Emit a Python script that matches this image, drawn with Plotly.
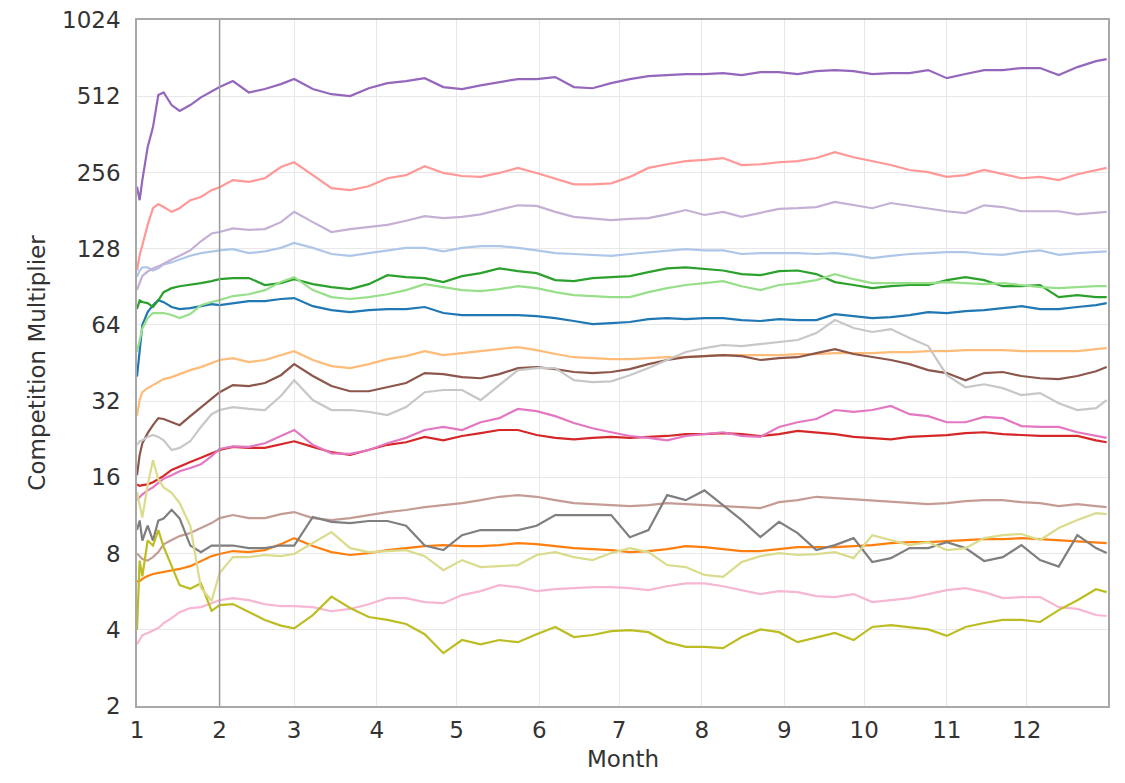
import plotly.graph_objects as go

# Day of year (0 = 1 January) at which each value was read
days = [0, 1, 2, 4, 6, 8, 10, 13, 16, 20, 24, 28, 31,
        36, 42, 48, 54, 59,
        66, 73, 80, 87, 94, 101, 108,
        115, 122, 129, 136, 143, 150, 157,
        164, 171, 178, 185, 192, 199, 206,
        213, 220, 227, 234, 241, 248, 255,
        262, 269, 276, 283, 290, 297, 304,
        311, 318, 325, 332, 339, 346, 353,
        360, 364]

month_starts = [0, 31, 59, 90, 120, 151, 181, 212, 243, 273, 304, 334]
month_labels = ["1", "2", "3", "4", "5", "6", "7", "8", "9", "10", "11", "12"]
y_ticks = [2, 4, 8, 16, 32, 64, 128, 256, 512, 1024]

s_purple = [225, 199, 239, 322, 387, 518, 530, 473, 448, 473, 507, 536, 557,
            588, 530, 547, 572, 599,
            547, 522, 513, 551, 577, 588, 604,
            557, 547, 566, 583, 599, 599, 610,
            557, 551, 577, 599, 615, 621, 627,
            627, 632, 621, 638, 638, 627, 644,
            650, 644, 627, 632, 632, 650, 604,
            627, 650, 650, 662, 662, 621, 668,
            705, 718]
s_light_red = [105, 121, 132, 159, 185, 192, 187, 179, 185, 199, 205, 218, 224,
               239, 235, 243, 269, 281,
               250, 222, 218, 226, 243, 250, 271,
               255, 248, 246, 255, 267, 255, 243,
               230, 230, 232, 246, 267, 276, 284,
               287, 292, 274, 276, 281, 284, 292,
               308, 294, 284, 274, 262, 257, 246,
               250, 262, 252, 243, 246, 239, 252,
               262, 267]
s_light_purple = [88, 94.5, 100, 104, 107, 109, 112, 116, 120, 126, 137, 147, 149,
                  154, 152, 153, 163, 179,
                  163, 149, 153, 156, 159, 165, 172,
                  169, 171, 175, 182, 190, 189, 179,
                  171, 168, 166, 168, 169, 175, 182,
                  174, 179, 171, 177, 184, 185, 187,
                  196, 190, 185, 194, 189, 184, 180,
                  177, 190, 187, 180, 180, 180, 175,
                  177, 179]
s_light_blue = [99, 105, 108, 108, 105, 107, 111, 113, 116, 120, 123, 125, 126,
                127.5, 123, 125, 129, 135,
                129, 122, 120, 123, 126, 129, 129,
                125, 129, 131, 131, 129, 126, 123,
                122, 121, 120, 122, 124, 126, 127.5,
                126, 126, 122, 123, 123, 123, 122,
                123, 121, 117.5, 120, 122, 123, 124,
                124, 122, 121, 124, 126, 121, 123,
                124, 125]
s_green = [74, 80, 78.8, 78, 75.3, 80, 86.2, 89.4, 91, 92, 93.6, 95.3, 97,
           98, 98, 92, 93.6, 97,
           92.7, 90.3, 88.6, 92.7, 100.6, 98.8, 98,
           94.5, 99.7, 102.5, 107, 104.4, 102.5, 96.2,
           95.3, 98, 98.8, 99.7, 103.5, 107, 108,
           106.3, 105, 101.6, 100.6, 104.4, 105, 101.6,
           94.5, 92, 89.4, 91, 92, 92, 96.2,
           98.8, 96.2, 91, 91, 92, 82.4, 83.9,
           82.4, 82.4]
s_light_green = [50, 55.8, 62, 68.1, 71.3, 71.3, 71.3, 70, 68.1, 70.6, 76.6, 78.8, 80.2,
                 83.2, 84.6, 87.8, 94.5, 98.8,
                 87.8, 82.4, 81, 82.4, 84.6, 87.8, 92.7,
                 90.3, 87.8, 87, 88.6, 91, 89.4, 86.2,
                 83.9, 83.2, 82.4, 82.4, 86.2, 89.4, 92,
                 93.6, 95.3, 91, 87.8, 92, 93.6, 96.2,
                 101.6, 97, 93.6, 93.6, 93.6, 93.6, 94.5,
                 93.6, 92.7, 93.6, 92, 90.3, 89.4, 90.3,
                 91, 91]
s_blue = [40, 50.9, 63.9, 71.9, 76.6, 80.2, 78.7, 75.3, 73.9, 74.5, 75.9, 77.3, 76.6,
          78, 79.4, 79.4, 81, 81.7,
          75.9, 73.2, 71.9, 73.2, 73.9, 73.9, 75.3,
          71.3, 70, 70, 70, 70, 69.3, 68.1,
          66.3, 64.5, 65.1, 65.7, 67.5, 68.1, 67.5,
          68.1, 68.1, 66.9, 66.3, 67.5, 66.9, 66.9,
          70.6, 69.3, 68.1, 68.7, 70, 71.9, 71.3,
          72.6, 73.2, 74.5, 75.9, 73.9, 73.9, 75.3,
          76.6, 78]
s_light_orange = [28, 32.3, 34.7, 36, 37, 38, 39.1, 39.8, 40.9, 42.4, 43.6, 45.2, 46.5,
                  47.3, 45.6, 46.5, 48.6, 50.4,
                  46.5, 44, 43.2, 44.8, 46.9, 48.2, 50.4,
                  48.6, 49.5, 50.4, 51.3, 52.3, 50.9, 49.1,
                  47.7, 47.3, 46.9, 46.9, 47.3, 47.7, 47.7,
                  48.2, 48.6, 48.6, 48.6, 48.6, 49.1, 49.1,
                  49.5, 49.5, 49.5, 50, 50, 50.4, 50.4,
                  50.9, 50.9, 50.9, 50.4, 50.4, 50.4, 50.4,
                  51.3, 51.8]
s_brown = [16.3, 19.6, 21.8, 23.9, 25.7, 27.4, 27.2, 26.4, 25.7, 27.9, 30.3, 32.9, 34.7,
           37, 36.7, 37.7, 40.5, 44.8,
           40.2, 36.7, 35, 35, 36.3, 37.7, 41.3,
           40.9, 39.8, 39.4, 40.9, 43.2, 43.6, 42.8,
           41.7, 41.3, 41.7, 42.8, 44.8, 46.5, 47.7,
           48.2, 48.6, 48.2, 46.5, 47.3, 47.7, 49.5,
           51.3, 49.1, 47.7, 46.5, 44.8, 42.4, 41.3,
           38.7, 41.3, 41.7, 40.2, 39.4, 39.1, 40.2,
           42, 43.6]
s_light_gray = [21.5, 22.2, 22.4, 23.1, 23.5, 23.1, 22.4, 20.5, 20.9, 22.2, 25.3, 28.4, 29.5,
                30.3, 29.8, 29.5, 33.5, 38.7,
                32.3, 29.5, 29.5, 29, 28.2, 30.3, 34.7,
                35.4, 35.4, 32.3, 37, 42.4, 43.2, 43.2,
                38.7, 38, 38.3, 40.5, 43.2, 46.5, 50,
                51.8, 53.3, 52.8, 53.7, 54.7, 55.8, 59.4,
                66.9, 62.2, 60, 61.6, 56.8, 52.8, 40.5,
                36.3, 37.3, 36, 33.8, 34.4, 31.4, 29.5,
                30, 32.3]
s_pink = [13, 13.3, 13.7, 14.2, 14.6, 15.2, 15.8, 16.3, 16.9, 17.4, 18, 19.4, 20.7,
          21.2, 21.1, 21.8, 23.3, 24.6,
          21.5, 19.9, 19.8, 20.5, 21.8, 22.9, 24.6,
          25.3, 24.6, 26.4, 27.4, 29.8, 29.2, 27.9,
          26.2, 25, 24.1, 23.3, 22.9, 22.4, 23.3,
          23.7, 24.1, 23.3, 23.1, 25.3, 26.4, 27.2,
          29.5, 29, 29.5, 30.6, 28.4, 27.9, 26.4,
          26.4, 27.7, 27.4, 25.5, 25.3, 25.3, 24.1,
          23.3, 22.9]
s_red = [15, 14.8, 14.9, 15, 15.3, 15.7, 16.2, 17.1, 17.7, 18.4, 19.1, 19.9, 20.5,
         21.1, 20.9, 20.9, 21.6, 22.2,
         21.1, 20.1, 19.6, 20.5, 21.5, 22, 23.1,
         22.4, 23.3, 23.9, 24.6, 24.6, 23.5, 22.9,
         22.6, 22.9, 23.1, 22.9, 23.1, 23.3, 23.7,
         23.7, 23.9, 23.7, 23.3, 23.7, 24.4, 24.1,
         23.7, 23.1, 22.9, 22.6, 23.1, 23.3, 23.5,
         23.9, 24.1, 23.7, 23.5, 23.3, 23.3, 23.3,
         22.4, 22]
s_light_brown = [8, 7.8, 7.6, 7.5, 7.74, 8.1, 8.7, 9.04, 9.37, 9.63, 10.08, 10.55, 11.04,
                 11.35, 11.04, 11.04, 11.45, 11.66,
                 11.04, 10.84, 11.04, 11.35, 11.66, 11.88, 12.2,
                 12.42, 12.65, 13, 13.4, 13.6, 13.4, 13,
                 12.65, 12.53, 12.42, 12.31, 12.42, 12.65, 12.53,
                 12.42, 12.31, 12.2, 12.09, 12.76, 13, 13.4,
                 13.24, 13.12, 13, 12.76, 12.65, 12.53, 12.65,
                 12.88, 13, 13, 12.76, 12.65, 12.31, 12.53,
                 12.31, 12.2]
s_gray = [9.9, 10.8, 9, 10.3, 9, 10.8, 11, 11.9, 11, 8.6, 8.1, 8.6, 8.6,
          8.6, 8.4, 8.4, 8.6, 8.6,
          11.15, 10.67, 10.55, 10.75, 10.75, 10.3, 8.6,
          8.25, 9.45, 9.9, 9.9, 9.9, 10.3, 11.35,
          11.35, 11.35, 11.35, 9.28, 9.9, 13.6, 13,
          14.2, 12.4, 10.84, 9.28, 10.67, 9.63, 8.25,
          8.63, 9.2, 7.4, 7.67, 8.4, 8.4, 8.87,
          8.4, 7.47, 7.74, 8.63, 7.53, 7.1, 9.45,
          8.4, 8.03]
s_orange = [6.2, 6.22, 6.35, 6.52, 6.64, 6.7, 6.76, 6.82, 6.95, 7.13, 7.47, 7.81, 7.96,
            8.18, 8.1, 8.25, 8.71, 9.2,
            8.56, 8.1, 7.89, 8.03, 8.25, 8.4, 8.56,
            8.63, 8.56, 8.56, 8.63, 8.79, 8.71, 8.56,
            8.4, 8.33, 8.25, 8.1, 8.18, 8.33, 8.56,
            8.48, 8.33, 8.18, 8.18, 8.33, 8.48, 8.48,
            8.48, 8.56, 8.63, 8.79, 8.87, 8.87, 8.95,
            9.04, 9.12, 9.12, 9.2, 9.12, 9.04, 8.95,
            8.87, 8.79]
s_light_olive = [14, 12.5, 11.1, 14.9, 18.7, 15.7, 14.6, 13.9, 12.65, 10.3, 5.84, 5.2, 6.7,
                 7.74, 7.74, 7.89, 7.81, 7.96,
                 8.79, 9.72, 8.4, 8.1, 8.18, 8.25, 7.81,
                 6.87, 7.53, 7.07, 7.13, 7.2, 7.89, 8.1,
                 7.74, 7.53, 8.03, 8.4, 8.1, 7.2, 7.07,
                 6.58, 6.47, 7.4, 7.81, 8.03, 7.89, 7.96,
                 8.1, 7.67, 9.45, 9.04, 8.63, 8.87, 8.25,
                 8.4, 9.2, 9.45, 9.55, 9.04, 10.08, 10.84,
                 11.55, 11.45]
s_light_pink = [3.5, 3.64, 3.8, 3.88, 3.98, 4.06, 4.25, 4.44, 4.69, 4.87, 4.91, 5.09, 5.23,
                5.33, 5.23, 5.04, 4.96, 4.96,
                4.91, 4.73, 4.83, 5.04, 5.33, 5.33, 5.14,
                5.09, 5.48, 5.68, 6.0, 5.89, 5.68, 5.78,
                5.84, 5.89, 5.89, 5.84, 5.73, 5.94, 6.1,
                6.1, 5.94, 5.73, 5.53, 5.68, 5.63, 5.43,
                5.38, 5.53, 5.14, 5.23, 5.33, 5.53, 5.73,
                5.84, 5.63, 5.33, 5.38, 5.38, 4.91, 4.83,
                4.57, 4.53]
s_olive = [4.0, 7.5, 6.5, 9.0, 8.6, 9.9, 8.5, 7.1, 6.0, 5.8, 6.1, 4.75, 5.0,
           5.05, 4.7, 4.37, 4.15, 4.05,
           4.57, 5.4, 4.87, 4.49, 4.37, 4.21, 3.84,
           3.23, 3.64, 3.5, 3.64, 3.57, 3.84, 4.1,
           3.74, 3.81, 3.95, 3.98, 3.91, 3.57, 3.42,
           3.42, 3.38, 3.74, 4.01, 3.91, 3.57, 3.71,
           3.88, 3.64, 4.1, 4.17, 4.1, 4.01, 3.78,
           4.1, 4.25, 4.37, 4.37, 4.29, 4.78, 5.23,
           5.78, 5.63]

series = [
    (s_blue, "#1f77b4"), (s_light_blue, "#aec7e8"),
    (s_orange, "#ff7f0e"), (s_light_orange, "#ffbb78"),
    (s_green, "#2ca02c"), (s_light_green, "#98df8a"),
    (s_red, "#d62728"), (s_light_red, "#ff9896"),
    (s_purple, "#9467bd"), (s_light_purple, "#c5b0d5"),
    (s_brown, "#8c564b"), (s_light_brown, "#c49c94"),
    (s_pink, "#e377c2"), (s_light_pink, "#f7b6d2"),
    (s_gray, "#7f7f7f"), (s_light_gray, "#c7c7c7"),
    (s_olive, "#bcbd22"), (s_light_olive, "#dbdb8d"),
]

fig = go.Figure()
for vals, col in series:
    fig.add_trace(go.Scatter(x=days, y=vals, mode="lines",
                             line=dict(color=col, width=2.2), showlegend=False,
                             hoverinfo="skip"))

fig.add_vline(x=31, line=dict(color="#9a9a9a", width=1.5))

font_col = "#333333"
fam = "DejaVu Sans, Liberation Sans, Arial, sans-serif"
fig.update_layout(
    width=1109, height=767,
    margin=dict(l=129, r=9, t=12, b=69),
    paper_bgcolor="white", plot_bgcolor="white",
    font=dict(family=fam, size=23, color=font_col),
    showlegend=False,
)
fig.add_annotation(text="Month", xref="paper", yref="paper", x=0.5, y=-0.0995,
                   xanchor="center", yanchor="bottom", showarrow=False,
                   font=dict(family=fam, size=23, color=font_col))
fig.update_xaxes(
    range=[0, 364.5], tickvals=month_starts, ticktext=month_labels,
    automargin=False, ticklabeloverflow="allow",
    showgrid=True, gridcolor="#e8e8e8", gridwidth=1,
    showline=True, mirror=True, linecolor="#a8a8a8", linewidth=1.5,
    ticks="outside", ticklen=3, tickcolor="rgba(0,0,0,0)",
    tickfont=dict(family=fam, size=23, color=font_col),
    zeroline=False,
)
fig.update_yaxes(
    type="log", range=[0.3005, 3.0108], tickvals=y_ticks,
    ticktext=[str(v) for v in y_ticks],
    automargin=False, ticklabeloverflow="allow",
    showgrid=True, gridcolor="#e8e8e8", gridwidth=1,
    showline=True, mirror=True, linecolor="#a8a8a8", linewidth=1.5,
    ticks="outside", ticklen=10, tickcolor="rgba(0,0,0,0)",
    tickfont=dict(family=fam, size=23, color=font_col),
    title=dict(text="Competition Multiplier", font=dict(family=fam, size=23, color=font_col), standoff=10),
    zeroline=False,
)

fig.write_html("out.html")
